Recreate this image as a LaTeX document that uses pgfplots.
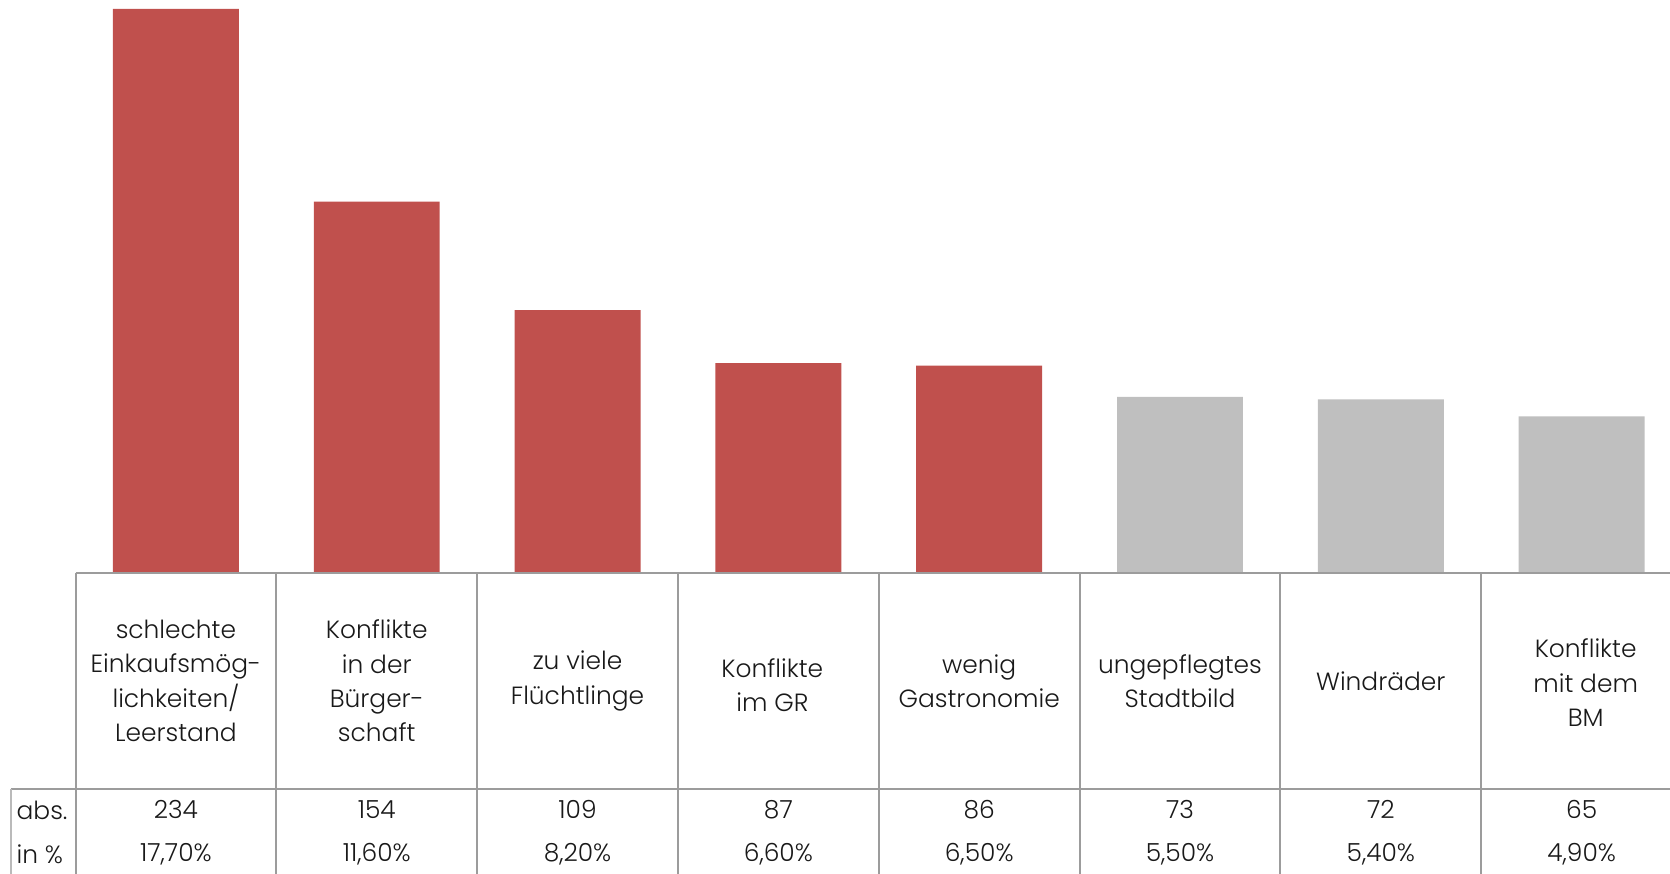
\documentclass[border=0pt]{standalone}
\usepackage{fontspec}
\IfFontExistsTF{Poppins Light}{\setmainfont{Poppins Light}}{\setmainfont{Poppins}}
\usepackage{pgfplots}
\pgfplotsset{compat=1.18}
\definecolor{barred}{HTML}{C0504D}
\definecolor{bargray}{HTML}{BFBFBF}
\definecolor{linegray}{HTML}{9C9C9C}
\tikzset{tbl/.style={font=\fontsize{12.5}{17.25}\selectfont, text=black!90}}
\begin{document}
\begin{tikzpicture}
\begin{axis}[
  width=835bp, height=437bp, scale only axis,
  xmin=-0.876, xmax=7.44, ymin=-124.9, ymax=237.7,
  hide axis, ybar, bar width=0.627, clip=false,
]
\addplot[fill=barred, draw=none, bar shift=0pt] coordinates {(0,234) (1,154) (2,109) (3,87) (4,86)};
\addplot[fill=bargray, draw=none, bar shift=0pt] coordinates {(5,73) (6,72) (7,65)};
\coordinate (ll) at (rel axis cs:0,0);
\coordinate (ur) at (rel axis cs:1,1);
% table grid
\draw[linegray, line width=1bp] (axis cs:-0.5,0) -- (axis cs:7.44,0);
\draw[linegray, line width=1bp] (axis cs:-0.822,-89.6) -- (axis cs:7.44,-89.6);
\draw[linegray!70, line width=1bp] (axis cs:-0.822,-89.6) -- (axis cs:-0.822,-124.9);
\draw[linegray, line width=1bp] (axis cs:-0.5,0) -- (axis cs:-0.5,-124.9);
\draw[linegray, line width=1bp] (axis cs:0.5,0) -- (axis cs:0.5,-124.9);
\draw[linegray, line width=1bp] (axis cs:1.5,0) -- (axis cs:1.5,-124.9);
\draw[linegray, line width=1bp] (axis cs:2.5,0) -- (axis cs:2.5,-124.9);
\draw[linegray, line width=1bp] (axis cs:3.5,0) -- (axis cs:3.5,-124.9);
\draw[linegray, line width=1bp] (axis cs:4.5,0) -- (axis cs:4.5,-124.9);
\draw[linegray, line width=1bp] (axis cs:5.5,0) -- (axis cs:5.5,-124.9);
\draw[linegray, line width=1bp] (axis cs:6.5,0) -- (axis cs:6.5,-124.9);
% category labels
\node[tbl, align=center] at (axis cs:0,-44.8) {schlechte\\Einkaufsmög-\\lichkeiten/\\Leerstand};
\node[tbl, align=center] at (axis cs:1,-44.8) {Konflikte\\in der\\Bürger-\\schaft};
\node[tbl, align=center] at (axis cs:2,-44.8) {zu viele\\Flüchtlinge};
\node[tbl, align=center] at (axis cs:2.97,-46.5) {Konflikte\\im GR};
\node[tbl, align=center] at (axis cs:4,-44.8) {wenig\\Gastronomie};
\node[tbl, align=center] at (axis cs:5,-44.8) {ungepflegtes\\Stadtbild};
\node[tbl, align=center] at (axis cs:6,-44.8) {Windräder};
\node[tbl, align=center] at (axis cs:7.02,-45.5) {Konflikte\\mit dem\\BM};
% row labels
\node[tbl, anchor=west, inner sep=0pt] at (axis cs:-0.795,-98.3) {abs.};
\node[tbl, anchor=west, inner sep=0pt] at (axis cs:-0.795,-116.6) {in \%};
% abs values
\node[tbl] at (axis cs:0,-98.3) {234};
\node[tbl] at (axis cs:1,-98.3) {154};
\node[tbl] at (axis cs:2,-98.3) {109};
\node[tbl] at (axis cs:3,-98.3) {87};
\node[tbl] at (axis cs:4,-98.3) {86};
\node[tbl] at (axis cs:5,-98.3) {73};
\node[tbl] at (axis cs:6,-98.3) {72};
\node[tbl] at (axis cs:7,-98.3) {65};
% percent values
\node[tbl] at (axis cs:0,-116.6) {17,70\%};
\node[tbl] at (axis cs:1,-116.6) {11,60\%};
\node[tbl] at (axis cs:2,-116.6) {8,20\%};
\node[tbl] at (axis cs:3,-116.6) {6,60\%};
\node[tbl] at (axis cs:4,-116.6) {6,50\%};
\node[tbl] at (axis cs:5,-116.6) {5,50\%};
\node[tbl] at (axis cs:6,-116.6) {5,40\%};
\node[tbl] at (axis cs:7,-116.6) {4,90\%};
\end{axis}
\pgfresetboundingbox
\useasboundingbox (ll) rectangle (ur);
\end{tikzpicture}
\end{document}
